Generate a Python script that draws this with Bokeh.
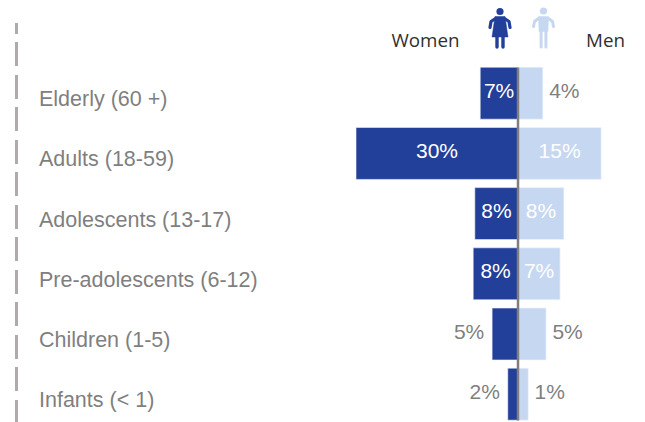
from bokeh.embed import file_html
from bokeh.resources import INLINE
from bokeh.plotting import figure
from bokeh.models import Range1d
from bokeh.core.properties import value

categories = ["Elderly (60 +)", "Adults (18-59)", "Adolescents (13-17)",
              "Pre-adolescents (6-12)", "Children (1-5)", "Infants (< 1)"]
women = [7.0, 30.0, 8.0, 8.3, 4.8, 1.9]
men = [4.6, 15.4, 8.5, 7.8, 5.2, 1.9]
women_labels = ["7%", "30%", "8%", "8%", "5%", "2%"]
men_labels = ["4%", "15%", "8%", "7%", "5%", "1%"]

NAVY = "#223f99"
LIGHT = "#c6d8f1"
GREY = "#7f7f7f"

W, H = 637, 422
O = 0
X0, PXX = 517.5, 5.4
Y_TOP, PITCH = 92.7, 60.2
n = len(categories)

def dx(px):
    return (px - X0) / PXX

def dy(px):
    return (n - 1) - (px - Y_TOP) / PITCH

p = figure(width=W, height=H, output_backend="svg", toolbar_location=None,
           x_range=Range1d(dx(O), dx(O + W)), y_range=Range1d(dy(O + H), dy(O)),
           min_border=0, min_border_left=0, min_border_right=0,
           min_border_top=0, min_border_bottom=0)
p.axis.visible = False
p.grid.visible = False
p.outline_line_color = None

ys = [n - 1 - i for i in range(n)]
bar_h = 52 / PITCH
p.hbar(y=ys, left=[-v for v in women], right=0, height=bar_h, fill_color=NAVY,
       line_color="#f2f5fb", line_width=0.6)
p.hbar(y=ys, left=0, right=men, height=bar_h, fill_color=LIGHT,
       line_color="#f2f5fb", line_width=0.6)

# centre axis line
p.line([0, 0], [dy(67), dy(420)], line_color=GREY, line_width=2.5)
# dashed left rule
p.line([dx(16), dx(16)], [dy(22.5), dy(422)], line_color="#b0aaaa", line_width=3,
       line_dash="24 8 24 9", line_dash_offset=13)

# category labels
p.text(x=dx(38.5), y=ys, text=categories, text_font=value("Liberation Sans"),
       text_font_size="21.5px", text_color=GREY, text_align="left",
       text_baseline="middle", y_offset=6)

# value labels: inside the bar when it is wide enough, otherwise beyond its end
INSIDE = 6
OUT_W, OUT_M = 23 / PXX, 21.5 / PXX
lx, ly, lt, lc = [], [], [], []
for i, y in enumerate(ys):
    v = women[i]
    inside = v > INSIDE
    lx.append(-v / 2 if inside else -v - OUT_W)
    ly.append(y); lt.append(women_labels[i]); lc.append("#ffffff" if inside else GREY)
    v = men[i]
    inside = v > INSIDE
    lx.append(v / 2 if inside else v + OUT_M)
    ly.append(y); lt.append(men_labels[i]); lc.append("#ffffff" if inside else GREY)
p.text(x=lx, y=ly, text=lt, text_color=lc, text_font=value("Liberation Sans"),
       text_font_size="21px", text_align="center", text_baseline="middle", y_offset=-3)

# header
p.text(x=[dx(425), dx(605)], y=[dy(39), dy(39)], text=["Women", "Men"],
       text_font=value("Open Sans"), text_font_size="18.8px", text_color="#303030",
       text_align="center", text_baseline="middle")

# pictograms
def poly(pts, color):
    p.patch([dx(a) for a, b in pts], [dy(b) for a, b in pts], fill_color=color, line_color=color, line_width=0.5)

def limb(pts, color, w):
    p.line([dx(a) for a, b in pts], [dy(b) for a, b in pts], line_color=color, line_width=w,
           line_cap="round", line_join="round")

# woman
wc = 499.5
p.circle(x=[dx(wc)], y=[dy(11)], radius=3.6 / PXX, fill_color=NAVY, line_color=None)
poly([(wc - 5, 16), (wc + 5, 16), (wc + 8, 36.5), (wc - 8, 36.5)], NAVY)
limb([(wc - 4.5, 18), (wc - 9, 21), (wc - 10, 27)], NAVY, 3.2)
limb([(wc + 4.5, 18), (wc + 9, 21), (wc + 10, 27)], NAVY, 3.2)
limb([(wc - 3, 36), (wc - 3, 46.5)], NAVY, 3.4)
limb([(wc + 3, 36), (wc + 3, 46.5)], NAVY, 3.4)
# man
mc = 543
p.circle(x=[dx(mc)], y=[dy(10.5)], radius=3.6 / PXX, fill_color=LIGHT, line_color=None)
poly([(mc - 5, 16), (mc + 5, 16), (mc + 4.5, 31), (mc - 4.5, 31)], LIGHT)
limb([(mc - 5, 18), (mc - 9, 21), (mc - 10, 26)], LIGHT, 3)
limb([(mc + 5, 18), (mc + 9, 21), (mc + 10, 26)], LIGHT, 3)
limb([(mc - 2.4, 30), (mc - 2.4, 46.5)], LIGHT, 3)
limb([(mc + 2.4, 30), (mc + 2.4, 46.5)], LIGHT, 3)

open("out.html", "w").write(file_html(p, INLINE))
